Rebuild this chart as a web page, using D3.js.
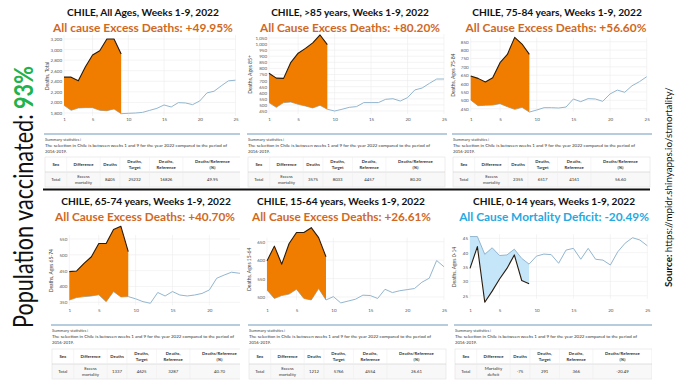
<!DOCTYPE html>
<html>
<head>
<meta charset="utf-8">
<script src="https://cdn.jsdelivr.net/npm/d3@7"></script>
<style>
body { margin: 0; background: #fff; }
svg { display: block; }
</style>
</head>
<body>
<svg id="chart" width="680" height="382"></svg>
<script>
// weeks of the year shown on every panel
const weeks = [1, 2, 3, 4, 5, 6, 7, 8, 9, 10, 11, 12, 13, 14, 15, 16, 17, 18, 19, 20, 21, 22, 23, 24, 25]
const xTicks = [1, 5, 10, 15, 20, 25]

// reference (2016-2019) for weeks 1-25, observed 2022 for weeks 1-9
const refTotal = [1946, 1851, 1895, 1901, 1901, 1851, 1844, 1876, 1787, 1794, 1800, 1812, 1850, 1888, 1952, 1914, 1996, 1990, 1958, 2028, 2180, 2212, 2313, 2408, 2421]
const obsTotal = [2478, 2478, 2408, 2674, 2896, 2978, 3200, 3200, 2915]
const ref85 = [519, 480, 519, 524, 505, 491, 475, 497, 464, 450, 464, 480, 486, 519, 519, 519, 546, 551, 532, 560, 623, 639, 677, 713, 713]
const obs85 = [760, 720, 718, 850, 925, 965, 1010, 1075, 995]
const ref7584 = [502, 468, 470, 472, 480, 462, 446, 458, 430, 442, 456, 456, 454, 460, 508, 492, 510, 508, 494, 538, 561, 548, 587, 611, 641]
const obs7584 = [645, 631, 609, 635, 725, 774, 876, 836, 774]
const ref6574 = [357, 365, 368, 370, 374, 352, 384, 367, 368, 361, 352, 347, 381, 370, 384, 373, 370, 373, 378, 389, 426, 436, 445, 442, 440]
const obs6574 = [447, 449, 473, 494, 536, 536, 580, 590, 510]
const ref1564 = [519, 496, 504, 508, 521, 496, 492, 523, 492, 501, 484, 489, 494, 505, 504, 496, 521, 512, 517, 520, 523, 540, 551, 599, 582]
const obs1564 = [598, 638, 589, 645, 675, 675, 688, 661, 609]
const ref014 = [45.6, 45.6, 39.4, 41.7, 39.0, 39.2, 41.2, 38.0, 36.0, 38.8, 39.5, 39.3, 36.3, 40.9, 41.5, 37.7, 41.5, 37.7, 37.4, 35.7, 40.3, 43.3, 45.2, 44.4, 42.4]
const obs014 = [34.5, 42.1, 22.7, 26.6, 30.8, 34.5, 39.2, 30.3, 29.2]

const titles = [
    'CHILE, All Ages, Weeks 1-9, 2022',
    'CHILE, >85 years, Weeks 1-9, 2022',
    'CHILE, 75-84 years, Weeks 1-9, 2022',
    'CHILE, 65-74 years, Weeks 1-9, 2022',
    'CHILE, 15-64 years, Weeks 1-9, 2022',
    'CHILE, 0-14 years, Weeks 1-9, 2022'
]
const subtitles = [
    'All cause Excess Deaths: +49.95%',
    'All Cause Excess Deaths: +80.20%',
    'All Cause Excess Deaths: +56.60%',
    'All Cause Excess Deaths: +40.70%',
    'All Cause Excess Deaths: +26.61%',
    'All Cause Mortality Deficit: -20.49%'
]
const yTitles = ['Deaths, Total', 'Deaths, Ages 85+', 'Deaths, Ages 75-84', 'Deaths, Ages 65-74', 'Deaths, Ages 15-64', 'Deaths, Ages 0-14']
const yTicks = [
    [1800, 2000, 2200, 2400, 2600, 2800, 3000, 3200],
    [450, 500, 550, 600, 650, 700, 750, 800, 850, 900, 950, 1000, 1050],
    [450, 500, 550, 600, 650, 700, 750, 800, 850],
    [350, 400, 450, 500, 550],
    [500, 550, 600, 650],
    [25, 30, 35, 40, 45]
]
const tableHead = ['Sex', 'Difference', 'Deaths', 'Deaths,|Target', 'Deaths,|Reference', 'Deaths/Reference|(%)']
const tableRows = [
    ['Total', 'Excess|mortality', '8405', '25232', '16826', '49.95'],
    ['Total', 'Excess|mortality', '3575', '8033', '4457', '80.20'],
    ['Total', 'Excess|mortality', '2355', '6517', '4161', '56.60'],
    ['Total', 'Excess|mortality', '1337', '4625', '3287', '40.70'],
    ['Total', 'Excess|mortality', '1212', '5766', '4554', '26.61'],
    ['Total', 'Mortality|deficit', '-75', '291', '366', '-20.49']
]
const summaryText = 'The selection in Chile is between weeks 1 and 9 for the year 2022 compared to the period of'
const refSeries = [refTotal, ref85, ref7584, ref6574, ref1564, ref014]
const obsSeries = [obsTotal, obs85, obs7584, obs6574, obs1564, obs014]

// layout of the two rows and six panels
const rows = [
    { title: 16, sub: 31.5, xlab: 120, sep: 134, sum: 141, txt: 147, top: 157 },
    { title: 204.5, sub: 220.5, xlab: 311, sep: 325, sum: 332, txt: 338, top: 349 }
]
const layout = [
    { row: 0, clip: [0, 240], tc: 143, tw: 152, sc: 143, sw: 180, xr: [64, 235.5], yr: [113, 39], yt: 49, tl: 45 },
    { row: 0, clip: [240, 449], tc: 350, tw: 158, sc: 350, sw: 180, xr: [269, 444], yr: [111, 38], yt: 252, tl: 248 },
    { row: 0, clip: [449, 652], tc: 557, tw: 170, sc: 556, sw: 181, xr: [470.7, 646.7], yr: [108.7, 41.7], yt: 455, tl: 453 },
    { row: 1, clip: [0, 240], tc: 146, tw: 170, sc: 145, sw: 180, xr: [69.3, 246.2], yr: [302.3, 239], yt: 53, tl: 52 },
    { row: 1, clip: [240, 449], tc: 341, tw: 168, sc: 341.5, sw: 179, xr: [267, 444], yr: [297, 241.7], yt: 251, tl: 249 },
    { row: 1, clip: [449, 652], tc: 554, tw: 162, sc: 554, sw: 190, xr: [470, 647.3], yr: [295.7, 238.3], yt: 456, tl: 455 }
]
const colEdges = [0, 0.11, 0.28, 0.38, 0.53, 0.70, 1]
const TABLE_W = 197

const svg = d3.select('#chart')
const defs = svg.append('defs')

function fit(sel, w) {
    const fs = parseFloat(sel.attr('font-size'))
    const len = sel.node().getComputedTextLength()
    sel.attr('font-size', fs * w / len)
    return sel
}

layout.forEach((L, i) => {
    const R = rows[L.row]
    defs.append('clipPath').attr('id', 'clip' + i)
        .append('rect').attr('x', L.clip[0]).attr('y', 0)
        .attr('width', L.clip[1] - L.clip[0]).attr('height', 382)
    const g = svg.append('g').attr('clip-path', `url(#clip${i})`)

    // titles
    fit(g.append('text').attr('x', L.tc).attr('y', R.title).attr('text-anchor', 'middle')
        .attr('font-family', 'Lato').attr('font-weight', 700).attr('font-size', 13)
        .attr('fill', '#111').text(titles[i]), L.tw)
    fit(g.append('text').attr('x', L.sc).attr('y', R.sub).attr('text-anchor', 'middle')
        .attr('font-family', 'Lato').attr('font-weight', 700).attr('font-size', 14)
        .attr('fill', i === 5 ? '#27a9e1' : '#d0691f').text(subtitles[i]), L.sw)

    const ticks = yTicks[i]
    const x = d3.scaleLinear().domain([weeks[0], weeks[weeks.length - 1]]).range(L.xr)
    const y = d3.scaleLinear().domain([ticks[0], ticks[ticks.length - 1]]).range(L.yr)

    // grid
    g.append('g').selectAll('line.h').data(ticks).join('line')
        .attr('x1', L.xr[0]).attr('x2', L.xr[1])
        .attr('y1', d => y(d)).attr('y2', d => y(d))
        .attr('stroke', '#ececec').attr('stroke-width', 0.6)
    g.append('g').selectAll('line.v').data(xTicks).join('line')
        .attr('x1', d => x(d)).attr('x2', d => x(d))
        .attr('y1', L.yr[1] - 4).attr('y2', L.yr[0] + 3)
        .attr('stroke', '#ececec').attr('stroke-width', 0.6)

    // axes
    const ya = g.append('g').attr('transform', `translate(${L.xr[0]},0)`)
        .call(d3.axisLeft(y).tickValues(ticks).tickSize(0).tickPadding(2))
    ya.select('.domain').remove()
    ya.selectAll('text').attr('font-size', 4.5).attr('font-family', 'Lato').attr('fill', '#555')
    const xa = g.append('g').attr('transform', `translate(0,${R.xlab - 3})`)
        .call(d3.axisBottom(x).tickValues(xTicks).tickSize(0).tickPadding(1))
    xa.select('.domain').remove()
    xa.selectAll('text').attr('font-size', 4.5).attr('font-family', 'Lato').attr('fill', '#555')

    g.append('text')
        .attr('transform', `translate(${L.yt},${(L.yr[0] + L.yr[1]) / 2}) rotate(-90)`)
        .attr('text-anchor', 'middle').attr('font-family', 'Lato').attr('font-size', 5)
        .attr('fill', '#444').text(yTitles[i])

    // series
    const ref = refSeries[i], obs = obsSeries[i]
    const refLine = d3.line().x((d, k) => x(weeks[k])).y(d => y(d))
    const band = d3.area()
        .x((d, k) => x(weeks[k]))
        .y0((d, k) => y(ref[k]))
        .y1(d => y(d))
    const deficit = i === 5
    if (!deficit) {
        g.append('path').datum(ref).attr('d', refLine)
            .attr('fill', 'none').attr('stroke', '#93b6cf').attr('stroke-width', 1)
    }
    g.append('path').datum(obs).attr('d', band)
        .attr('fill', deficit ? '#c4e6f8' : '#f07d00')
    if (deficit) {
        g.append('path').datum(ref).attr('d', refLine)
            .attr('fill', 'none').attr('stroke', '#93b6cf').attr('stroke-width', 1)
    }
    g.append('path').datum(obs).attr('d', refLine)
        .attr('fill', 'none').attr('stroke', '#2a1a0c').attr('stroke-width', 1.1)
        .attr('stroke-linejoin', 'round')

    // summary block
    g.append('line').attr('x1', L.tl - 1).attr('x2', L.tl + TABLE_W + 2)
        .attr('y1', R.sep).attr('y2', R.sep)
        .attr('stroke', '#9fbdd2').attr('stroke-width', 1.3)
    const st = g.append('text').attr('x', L.tl).attr('y', R.sum)
        .attr('font-family', 'Lato').attr('font-size', 4.2).attr('fill', '#444')
    st.append('tspan').text('Summary statistics  ')
    st.append('tspan').attr('fill', '#3a7fc1').text('ℹ')
    fit(g.append('text').attr('x', L.tl).attr('y', R.txt)
        .attr('font-family', 'Lato').attr('font-size', 4.2).attr('fill', '#333')
        .text(summaryText), 182)
    g.append('text').attr('x', L.tl).attr('y', R.txt + 5.6)
        .attr('font-family', 'Lato').attr('font-size', 4.2).attr('fill', '#333')
        .text('2016-2019.')

    // table
    const tx = d3.scaleLinear().domain([0, 1]).range([L.tl, L.tl + TABLE_W])
    const top = R.top, hh = 15, rh = 15
    g.append('rect').attr('x', L.tl).attr('y', top + hh).attr('width', TABLE_W).attr('height', rh)
        .attr('fill', '#f8f8f8')
    g.append('rect').attr('x', L.tl).attr('y', top).attr('width', TABLE_W).attr('height', hh + rh)
        .attr('fill', 'none').attr('stroke', '#dcdcdc').attr('stroke-width', 0.5)
    g.append('line').attr('x1', L.tl).attr('x2', L.tl + TABLE_W)
        .attr('y1', top + hh).attr('y2', top + hh).attr('stroke', '#cfcfcf').attr('stroke-width', 0.6)
    g.append('g').selectAll('line').data(colEdges.slice(1, -1)).join('line')
        .attr('x1', d => tx(d)).attr('x2', d => tx(d))
        .attr('y1', top).attr('y2', top + hh + rh)
        .attr('stroke', '#ececec').attr('stroke-width', 0.5)
    const cells = (vals, y0, h, bold) => {
        vals.forEach((v, c) => {
            const cx = tx((colEdges[c] + colEdges[c + 1]) / 2)
            const parts = v.split('|')
            const t = g.append('text').attr('x', cx).attr('text-anchor', 'middle')
                .attr('font-family', 'Lato').attr('font-size', 4.3)
                .attr('font-weight', bold ? 700 : 400).attr('fill', '#333')
            parts.forEach((p, k) => {
                t.append('tspan').attr('x', cx)
                    .attr('y', y0 + h / 2 + 1.5 + (k - (parts.length - 1) / 2) * 5.2)
                    .text(p)
            })
        })
    }
    cells(tableHead, top, hh, true)
    cells(tableRows[i], top + hh, rh, false)
})

// black separator between the two rows
svg.append('line').attr('x1', 43).attr('x2', 650).attr('y1', 189.5).attr('y2', 189.5)
    .attr('stroke', '#111').attr('stroke-width', 2)

// left vertical label: tall narrow glyphs, squeezed along the reading direction
const pop = svg.append('text')
    .attr('font-family', 'Lato').attr('font-size', 27).attr('fill', '#111')
pop.append('tspan').text('Population vaccinated: ')
pop.append('tspan').attr('fill', '#21b24b').attr('font-weight', 700).text('93%')
const popLen = pop.node().getComputedTextLength()
pop.attr('transform', `translate(33,328) rotate(-90) scale(${262 / popLen},1)`)

// right vertical source
const src = svg.append('text')
    .attr('transform', 'translate(672,287) rotate(-90)')
    .attr('font-family', 'Lato').attr('font-size', 10).attr('fill', '#111')
src.append('tspan').attr('font-weight', 700).text('Source: ')
src.append('tspan').text('https://mpidr.shinyapps.io/stmortality/')
fit(src, 200)
</script>
</body>
</html>
